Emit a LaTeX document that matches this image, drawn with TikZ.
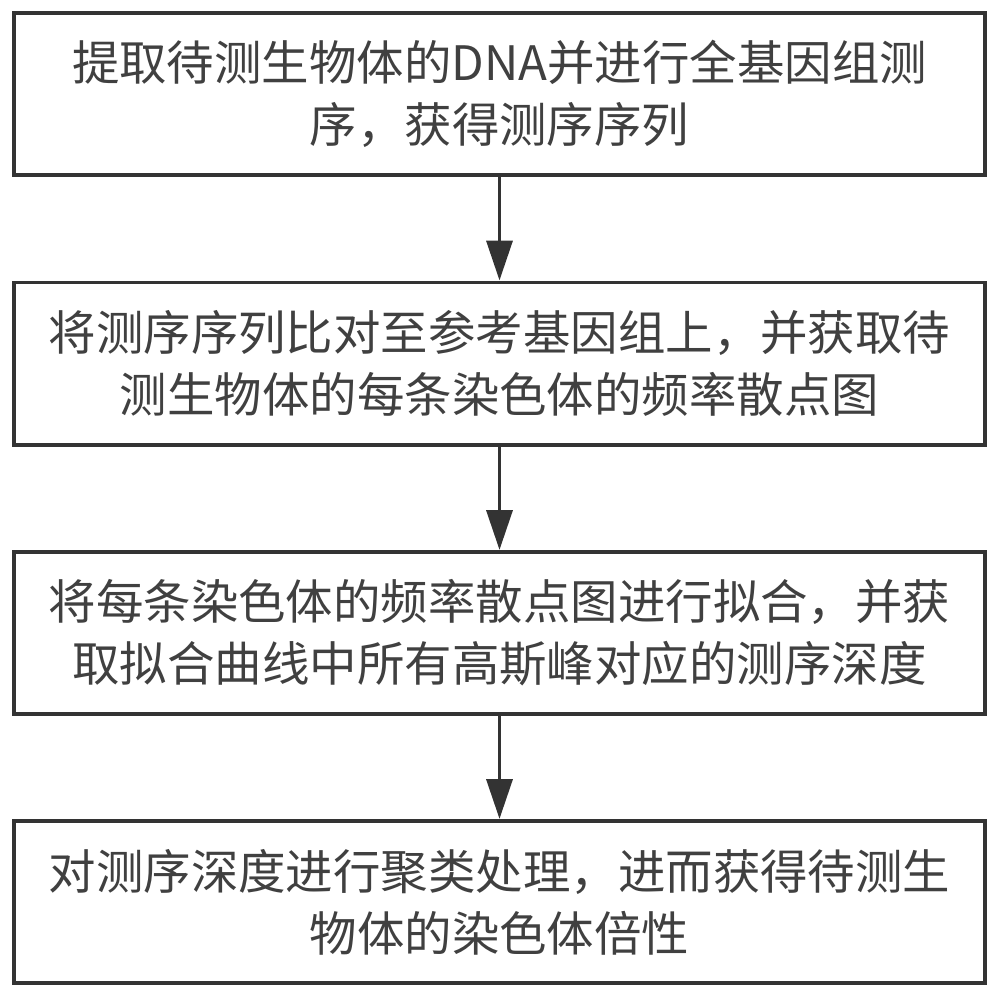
\documentclass[tikz,border=0pt]{standalone}
\usepackage{fontspec}
\setmainfont{Noto Sans CJK SC}
\usetikzlibrary{arrows.meta}
\begin{document}
\begin{tikzpicture}[x=0.03cm, y=-0.03cm,
    stepbox/.style={rectangle, draw=black!80, line width=3.4pt, minimum width=29.13cm, minimum height=4.86cm, align=center, font=\fontsize{40.5}{53}\selectfont, text=black!75},
    flow/.style={-{Triangle[length=34pt, width=22pt]}, line width=3.4pt, black!80}]
    \useasboundingbox (0,0) rectangle (1000,996);
    % Schritte
    \node[stepbox] (S1) at (499.5,94) {提取待测生物体的DNA并进行全基因组测\\序，获得测序序列};
    \node[stepbox] (S2) at (499.5,363.5) {将测序序列比对至参考基因组上，并获取待\\测生物体的每条染色体的频率散点图};
    \node[stepbox] (S3) at (499.5,633) {将每条染色体的频率散点图进行拟合，并获\\取拟合曲线中所有高斯峰对应的测序深度};
    \node[stepbox] (S4) at (499.5,902) {对测序深度进行聚类处理，进而获得待测生\\物体的染色体倍性};
    
    % Pfeile
    \draw[flow] (S1) -- (S2);
    \draw[flow] (S2) -- (S3);
    \draw[flow] (S3) -- (S4);
\end{tikzpicture}
\end{document}
